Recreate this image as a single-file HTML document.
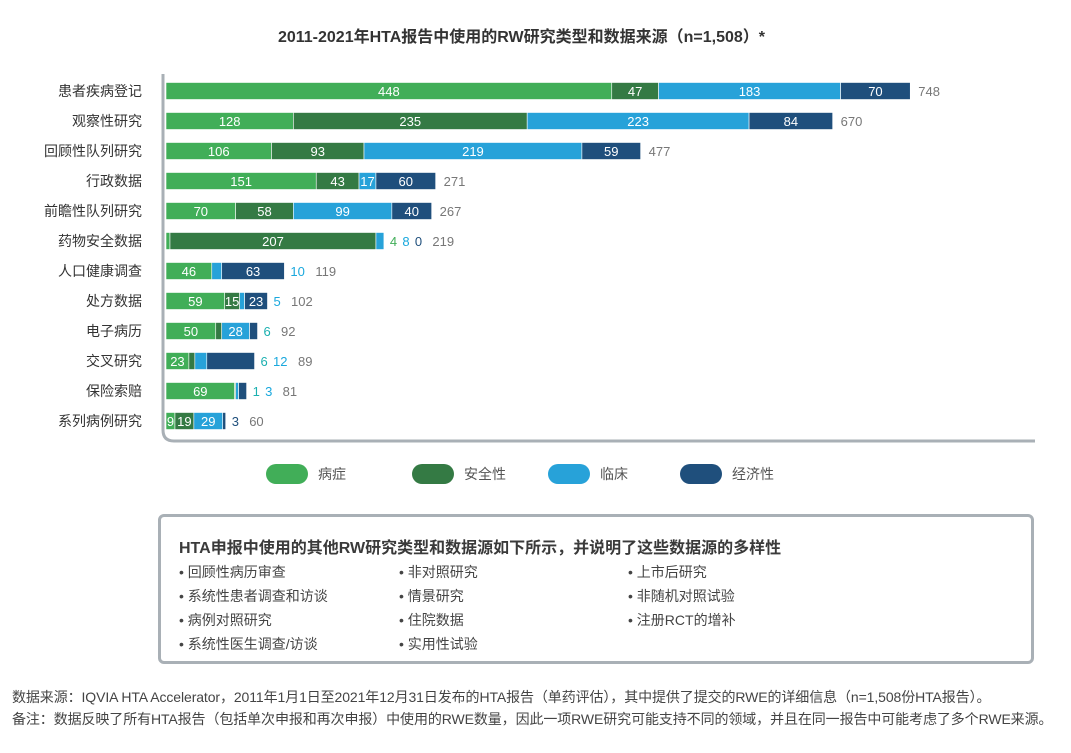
<!DOCTYPE html>
<html><head><meta charset="utf-8">
<style>
body{margin:0;width:1071px;height:753px;background:#fff;font-family:"Liberation Sans","Noto Sans CJK SC",sans-serif;position:relative;overflow:hidden;color:#444}
.abs{position:absolute;white-space:nowrap}
#box{position:absolute;left:158px;top:514px;width:870px;height:144px;border:3px solid #a9b0b6;border-radius:6px}
.bt{font-size:16px;font-weight:bold;color:#3a3a3a;left:18px;top:17px}
.li{font-size:14px;color:#444}
.fn{font-size:14px;color:#444;left:12px;letter-spacing:-0.1px}
</style></head><body>
<div class="abs" style="left:0;width:1043px;text-align:center;top:23px;font-size:16px;font-weight:bold;color:#333">2011-2021年HTA报告中使用的RW研究类型和数据来源（n=1,508）*</div>
<svg id="chart" width="1071" height="500" style="position:absolute;left:0;top:0"></svg>
<div id="box">
<div class="abs bt">HTA申报中使用的其他RW研究类型和数据源如下所示，并说明了这些数据源的多样性</div>
<div class="abs li" style="left:18px;top:45px">• 回顾性病历审查</div>
<div class="abs li" style="left:18px;top:69px">• 系统性患者调查和访谈</div>
<div class="abs li" style="left:18px;top:93px">• 病例对照研究</div>
<div class="abs li" style="left:18px;top:117px">• 系统性医生调查/访谈</div>
<div class="abs li" style="left:238px;top:45px">• 非对照研究</div>
<div class="abs li" style="left:238px;top:69px">• 情景研究</div>
<div class="abs li" style="left:238px;top:93px">• 住院数据</div>
<div class="abs li" style="left:238px;top:117px">• 实用性试验</div>
<div class="abs li" style="left:467px;top:45px">• 上市后研究</div>
<div class="abs li" style="left:467px;top:69px">• 非随机对照试验</div>
<div class="abs li" style="left:467px;top:93px">• 注册RCT的增补</div>
</div>
<div class="abs fn" style="top:687px">数据来源：IQVIA HTA Accelerator，2011年1月1日至2021年12月31日发布的HTA报告（单药评估），其中提供了提交的RWE的详细信息（n=1,508份HTA报告）。</div>
<div class="abs fn" style="top:709px">备注：数据反映了所有HTA报告（包括单次申报和再次申报）中使用的RWE数量，因此一项RWE研究可能支持不同的领域，并且在同一报告中可能考虑了多个RWE来源。</div>
<script>
const categories=["患者疾病登记","观察性研究","回顾性队列研究","行政数据","前瞻性队列研究","药物安全数据","人口健康调查","处方数据","电子病历","交叉研究","保险索赔","系列病例研究"];
const disease=[448,128,106,151,70,4,46,59,50,23,69,9];
const safety=[47,235,93,43,58,207,0,15,6,6,1,19];
const clinical=[183,223,219,17,99,8,10,5,28,12,3,29];
const economic=[70,84,59,60,40,0,63,23,8,48,8,3];
const seriesNames=["病症","安全性","临床","经济性"];
const outsideLabels=[[],[],[],[],[],[0,2,3],[2],[2],[1],[1,2],[1,2],[3]];
const hiddenLabels=[[],[],[],[],[],[],[],[],[3],[3],[3],[]];
const colors=["#41ae58","#347a44","#27a2d9","#1f4f7c"];
const outColors=["#41ae58","#1bb0b0","#1aa8dd","#1f4f7c"];
const svg=document.getElementById('chart');const NS="http://www.w3.org/2000/svg";
const x0=166,scale=0.995,yTop=91,rowH=30,barH=17;
const xs=v=>v*scale;const yc=i=>yTop+i*rowH;
function mk(t,a){const e=document.createElementNS(NS,t);for(const k in a)e.setAttribute(k,a[k]);svg.appendChild(e);return e;}
const series=[disease,safety,clinical,economic];
categories.forEach((c,i)=>{
 const lab=mk('text',{x:142,y:yc(i)+5,'text-anchor':'end','font-size':14,fill:'#333'});lab.textContent=c;
 
 
 let x=x0,tot=0;
 series.forEach((s,k)=>{const w=xs(s[i]);tot+=s[i];
  if(w>0){const r=mk('rect',{x:x,y:yc(i)-barH/2,width:w,height:barH,fill:colors[k],stroke:'#fff','stroke-width':0.6});
   
   
   if(!outsideLabels[i].includes(k)&&!hiddenLabels[i].includes(k)&&w>=8){
    const t=mk('text',{x:x+w/2,y:yc(i)+5,'text-anchor':'middle','font-size':13,fill:'#fff'});t.textContent=s[i];
    
    }
  }
  x+=w;});
 let ox=x+6;
 outsideLabels[i].forEach(k=>{const t=mk('text',{x:ox,y:yc(i)+5,'font-size':13,fill:outColors[k]});t.textContent=series[k][i];
  
  
  ox+=String(series[k][i]).length*7.5+5;});
 const tt=mk('text',{x:ox+(outsideLabels[i].length?5:2),y:yc(i)+5,'font-size':13,fill:'#777'});tt.textContent=tot;
 
 
});
const ax=mk('path',{d:'M163 74 V430 Q163 441 174 441 H1035',fill:'none',stroke:'#a9b0b6','stroke-width':3});


const legX=[266,412,548,680];
seriesNames.forEach((n,k)=>{const r=mk('rect',{x:legX[k],y:464,width:42,height:20,rx:10,fill:colors[k]});
 
 
 const t=mk('text',{x:legX[k]+52,y:479,'font-size':14,fill:'#555'});t.textContent=n;
 
 });
</script>
</body></html>
